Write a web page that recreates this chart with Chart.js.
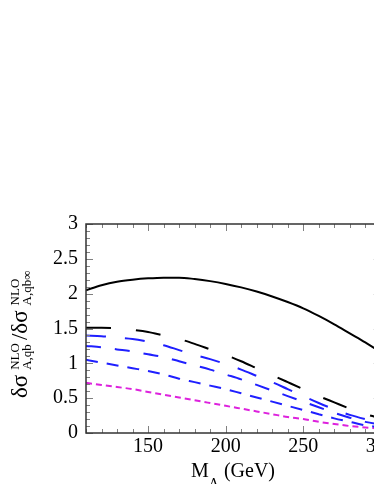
<!DOCTYPE html>
<html>
<head>
<meta charset="utf-8">
<script src="https://cdn.jsdelivr.net/npm/chart.js@4/dist/chart.umd.min.js"></script>
<style>
    html, body { margin: 0; padding: 0; background: #fff; overflow: hidden; }
    #wrap { width: 374px; height: 484px; overflow: hidden; }
</style>
</head>
<body>
<div id="wrap"><canvas id="grafico" width="420" height="484"></canvas></div>
<script>
// masas (GeV)
const masas = [110, 120, 130, 140, 150, 160, 170, 180, 190, 200, 210, 220, 230, 240, 250, 260, 270, 280, 290, 300];

// curvas
const curvaSolida = [2.05, 2.12, 2.17, 2.20, 2.22, 2.23, 2.23, 2.21, 2.18, 2.14, 2.09, 2.03, 1.96, 1.88, 1.79, 1.68, 1.56, 1.43, 1.30, 1.16];
const curvaNegraLarga = [1.51, 1.51, 1.50, 1.48, 1.45, 1.40, 1.35, 1.28, 1.20, 1.12, 1.03, 0.93, 0.83, 0.73, 0.63, 0.53, 0.44, 0.35, 0.27, 0.21];
const curvaAzul1 = [1.40, 1.39, 1.37, 1.35, 1.31, 1.26, 1.19, 1.12, 1.06, 0.99, 0.91, 0.82, 0.73, 0.63, 0.53, 0.43, 0.34, 0.26, 0.20, 0.15];
const curvaAzul2 = [1.25, 1.23, 1.20, 1.17, 1.13, 1.09, 1.03, 0.97, 0.91, 0.84, 0.77, 0.69, 0.61, 0.53, 0.45, 0.37, 0.29, 0.22, 0.16, 0.12];
const curvaAzul3 = [1.05, 1.01, 0.97, 0.93, 0.89, 0.84, 0.78, 0.73, 0.68, 0.63, 0.57, 0.51, 0.45, 0.39, 0.33, 0.27, 0.21, 0.16, 0.11, 0.08];
const curvaMagenta = [0.72, 0.69, 0.66, 0.63, 0.59, 0.55, 0.51, 0.47, 0.43, 0.39, 0.35, 0.31, 0.27, 0.23, 0.20, 0.16, 0.13, 0.10, 0.08, 0.06];

// ticks
const ticksX = [150, 200, 250, 300];
const ticksY = [0, 0.5, 1, 1.5, 2, 2.5, 3];

const SERIF = "'Liberation Serif', 'DejaVu Serif', serif";

function puntos(valores) {
    return masas.map((m, i) => ({ x: m, y: valores[i] }));
}

function serie(valores, color, dash) {
    return {
        data: puntos(valores),
        borderColor: color,
        borderWidth: 2,
        borderDash: dash,
        pointRadius: 0,
        cubicInterpolationMode: 'monotone',
        fill: false
    };
}

// marco, ticks hacia adentro y titulos con sub/superindices
const marcoPlugin = {
    id: 'marco',
    afterDraw(chart) {
        const ctx = chart.ctx;
        const a = chart.chartArea;
        const sx = chart.scales.x;
        const sy = chart.scales.y;
        ctx.save();

        // ticks menores y mayores
        ctx.strokeStyle = '#808080';
        ctx.lineWidth = 1;
        ctx.beginPath();
        for (let m = 110; m <= 300; m += 10) {
            const px = Math.round(sx.getPixelForValue(m)) + 0.5;
            const len = (m % 50 === 0) ? 7 : 4;
            ctx.moveTo(px, a.bottom); ctx.lineTo(px, a.bottom - len);
            ctx.moveTo(px, a.top); ctx.lineTo(px, a.top + len);
        }
        for (let k = 0; k <= 30; k++) {
            const v = k / 10;
            const py = Math.round(sy.getPixelForValue(v)) + 0.5;
            const len = (k % 5 === 0) ? 7 : 4;
            ctx.moveTo(a.left, py); ctx.lineTo(a.left + len, py);
            ctx.moveTo(a.right, py); ctx.lineTo(a.right - len, py);
        }
        ctx.stroke();

        // marco
        ctx.strokeStyle = '#333';
        ctx.lineWidth = 1.5;
        ctx.strokeRect(a.left, a.top, a.right - a.left, a.bottom - a.top);

        // titulo eje x: M_A (GeV)
        ctx.fillStyle = '#000';
        ctx.textBaseline = 'alphabetic';
        ctx.textAlign = 'left';
        const fBig = '20px ' + SERIF;
        const fSub = '14px ' + SERIF;
        ctx.font = fBig;
        const wM = ctx.measureText('M').width;
        const wG = ctx.measureText(' (GeV)').width;
        ctx.font = fSub;
        const wA = ctx.measureText('A').width;
        let x0 = 233 - (wM + wA + wG) / 2;
        const base = 477;
        ctx.font = fBig; ctx.fillText('M', x0, base);
        ctx.font = fSub; ctx.fillText('A', x0 + wM, base + 11);
        ctx.font = fBig; ctx.fillText(' (GeV)', x0 + wM + wA, base);

        // titulo eje y (rotado)
        const fMain = '23px ' + SERIF;
        const fScr = '13px ' + SERIF;
        const partes = [
            { t: '\u03b4\u03c3', sup: 'NLO', sub: 'A,qb' },
            { t: '/\u03b4\u03c3', sup: 'NLO', sub: 'A,qb\u221e' }
        ];
        ctx.rotate(-Math.PI / 2);
        let pos = -398; // coordenada a lo largo del texto
        partes.forEach((p) => {
            ctx.font = fMain;
            ctx.fillText(p.t, pos, 27);
            pos += ctx.measureText(p.t).width + 5;
            ctx.font = fScr;
            const wSup = ctx.measureText(p.sup).width;
            const wSub = ctx.measureText(p.sub).width;
            ctx.fillText(p.sup, pos, 19);
            ctx.fillText(p.sub, pos, 31);
            pos += Math.max(wSup, wSub) + 3;
        });
        ctx.restore();
    }
};

const ctx = document.getElementById('grafico').getContext('2d');
const grafico = new Chart(ctx, {
    type: 'line',
    data: {
        datasets: [
            serie(curvaSolida, '#000000', []),
            serie(curvaNegraLarga, '#000000', [25, 25]),
            serie(curvaAzul1, '#1f1fff', [20, 19]),
            serie(curvaAzul2, '#1f1fff', [15, 14]),
            serie(curvaAzul3, '#1f1fff', [12, 9]),
            serie(curvaMagenta, '#dd22dd', [6, 4])
        ]
    },
    options: {
        responsive: false,
        animation: false,
        devicePixelRatio: 1,
        layout: {
            padding: { top: 224, left: 0, right: 39.2, bottom: 0 }
        },
        plugins: {
            legend: { display: false },
            tooltip: { enabled: false }
        },
        scales: {
            x: {
                type: 'linear',
                min: 110,
                max: 300,
                afterBuildTicks: function(scale) {
                    scale.ticks = ticksX.map(v => ({ value: v }));
                },
                afterFit: function(scale) {
                    scale.height = 51;
                },
                grid: { display: false, drawTicks: false },
                border: { display: false },
                ticks: {
                    color: '#000',
                    padding: 2,
                    maxRotation: 0,
                    font: { family: SERIF, size: 20 }
                }
            },
            y: {
                min: 0,
                max: 3,
                afterBuildTicks: function(scale) {
                    scale.ticks = ticksY.map(v => ({ value: v }));
                },
                afterFit: function(scale) {
                    scale.width = 86;
                },
                grid: { display: false, drawTicks: false },
                border: { display: false },
                ticks: {
                    color: '#000',
                    padding: 8,
                    font: { family: SERIF, size: 20 },
                    callback: function(value) {
                        return String(value);
                    }
                }
            }
        }
    },
    plugins: [marcoPlugin]
});
</script>
</body>
</html>
